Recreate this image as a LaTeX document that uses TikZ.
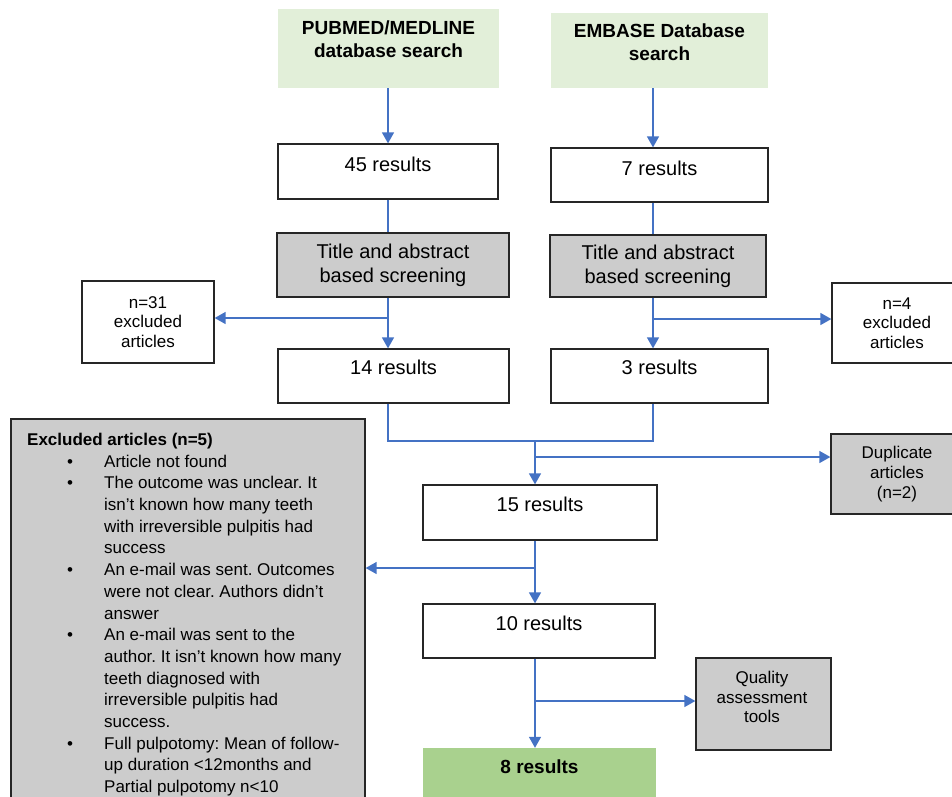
\documentclass[tikz,border=0pt]{standalone}
\usepackage{fontspec}
\setmainfont{Liberation Sans}
\usetikzlibrary{arrows.meta}
\definecolor{lgreen}{HTML}{E2EFD9}
\definecolor{dgreen}{HTML}{A9D18E}
\definecolor{gbox}{HTML}{CCCCCC}
\definecolor{bline}{HTML}{262626}
\definecolor{ablue}{HTML}{4472C4}
\frenchspacing
\newcommand{\fsz}[2]{\fontsize{#1}{#2}\selectfont}
\newcommand{\bul}{\makebox[77pt][l]{\hspace{40pt}\textbullet}}
\begin{document}
\begin{tikzpicture}[x=1pt,y=-1pt,
  sz/.style 2 args={minimum width=#1pt, minimum height=#2pt},
  box/.style={draw=bline, line width=1.3pt, inner sep=0pt, align=center},
  wbox/.style={box, fill=white},
  gbx/.style={box, fill=gbox},
  txt/.style={align=center, inner sep=0pt, text=black},
  big/.style={font=\fsz{20}{24}},
  small/.style={font=\fsz{17}{19.5}},
  conn/.style={draw=ablue, line width=1.4pt},
  arr/.style={conn, -{Triangle[width=12pt,length=11pt]}}
]
\useasboundingbox (0,0) rectangle (952,796);
\clip (0,0) rectangle (952,796);
\fill[white] (0,0) rectangle (952,796);

% top sources
\node[fill=lgreen, inner sep=0pt, sz={221}{79}] (pub) at (388.5,48.5) {};
\node[txt, font=\bfseries\fsz{19}{22.7}] (pubt) at (388.5,39) {PUBMED/MEDLINE\\database search};
\node[fill=lgreen, inner sep=0pt, sz={217}{75}] (emb) at (659.5,50.5) {};
\node[txt, font=\bfseries\fsz{19}{22.7}] (embt) at (659.5,42) {EMBASE Database\\search};

% first results
\node[wbox, sz={220}{55}] (r45) at (388,171.5) {};
\node[txt, big] (r45t) at (388,164) {45 results};
\node[wbox, sz={217}{54}] (r7) at (659.5,175) {};
\node[txt, big] (r7t) at (659.5,168) {7 results};

% screening
\node[gbx, big, sz={232}{64}] (scrL) at (393,265) {Title and abstract\\based screening};
\node[gbx, big, sz={216}{62}] (scrR) at (658,266) {Title and abstract\\based screening};

% excluded side boxes
\node[wbox, small, sz={132}{82}] (ex31) at (148,322) {n=31\\excluded\\articles};
\node[wbox, small, sz={130}{80}] (ex4) at (897,323) {n=4\\excluded\\articles};

% second results
\node[wbox, sz={231}{54}] (r14) at (393.5,376) {};
\node[txt, big] (r14t) at (393.5,367) {14 results};
\node[wbox, sz={217}{54}] (r3) at (659.5,376) {};
\node[txt, big] (r3t) at (659.5,367) {3 results};

% duplicates
\node[gbx, font=\fsz{17}{20}, sz={132}{80}] (dup) at (897,474) {Duplicate\\articles\\(n=2)};

% merged results
\node[wbox, sz={234}{55}] (r15) at (540,512.5) {};
\node[txt, big] (r15t) at (540,504) {15 results};
\node[wbox, sz={232}{54}] (r10) at (539,631) {};
\node[txt, big] (r10t) at (539,623) {10 results};

% quality
\node[gbx, sz={135}{92}] (qual) at (763.5,704) {};
\node[txt, font=\fsz{17}{19.5}] (qualt) at (762,697) {Quality\\assessment\\tools};

% final
\node[fill=dgreen, inner sep=0pt, sz={233}{56}] (r8) at (539.5,776) {};
\node[txt, font=\bfseries\fsz{19}{22}] (r8t) at (539.5,767) {8 results};

% excluded list
\node[gbx, sz={354}{391}] (excl) at (188,614.5) {};
\node[anchor=north west, inner sep=0pt, align=left, font=\fsz{17}{21.7}] (exclt) at (27,430) {%
\begin{tabular}{@{}l@{}l@{}}
\multicolumn{2}{@{}l@{}}{\bfseries Excluded articles (n=5)}\\
\bul & Article not found\\
\bul & The outcome was unclear. It\\
 & isn't known how many teeth\\
 & with irreversible pulpitis had\\
 & success\\
\bul & An e-mail was sent. Outcomes\\
 & were not clear. Authors didn't\\
 & answer\\
\bul & An e-mail was sent to the\\
 & author. It isn't known how many\\
 & teeth diagnosed with\\
 & irreversible pulpitis had\\
 & success.\\
\bul & Full pulpotomy: Mean of follow-\\
 & up duration <12months and\\
 & Partial pulpotomy n<10\\
\end{tabular}};

% column coordinates
\coordinate (cL) at (388,0);
\coordinate (cR) at (653,0);
\coordinate (cC) at (535,0);
\coordinate (bL) at (388,318);
\coordinate (bR) at (653,319);
\coordinate (mL) at (0,441);
\coordinate (b2) at (0,457);
\coordinate (b3) at (0,568);
\coordinate (b4) at (0,701);

% connectors
\draw[arr] (pub.south -| cL) -- (r45.north -| cL);
\draw[arr] (emb.south -| cR) -- (r7.north -| cR);
\draw[conn] (r45.south -| cL) -- (scrL.north -| cL);
\draw[conn] (r7.south -| cR) -- (scrR.north -| cR);
\draw[arr] (scrL.south -| cL) -- (r14.north -| cL);
\draw[arr] (scrR.south -| cR) -- (r3.north -| cR);
\draw[arr] (bL) -- (bL -| ex31.east);
\draw[arr] (bR) -- (bR -| ex4.west);
\draw[conn] (r14.south -| cL) -- (cL |- mL) -- (cR |- mL) -- (r3.south -| cR);
\draw[arr] (cC |- mL) -- (r15.north -| cC);
\draw[arr] (cC |- b2) -- (b2 -| dup.west);
\draw[arr] (r15.south -| cC) -- (r10.north -| cC);
\draw[arr] (cC |- b3) -- (b3 -| excl.east);
\draw[arr] (r10.south -| cC) -- (r8.north -| cC);
\draw[arr] (cC |- b4) -- (b4 -| qual.west);
\end{tikzpicture}
\end{document}
